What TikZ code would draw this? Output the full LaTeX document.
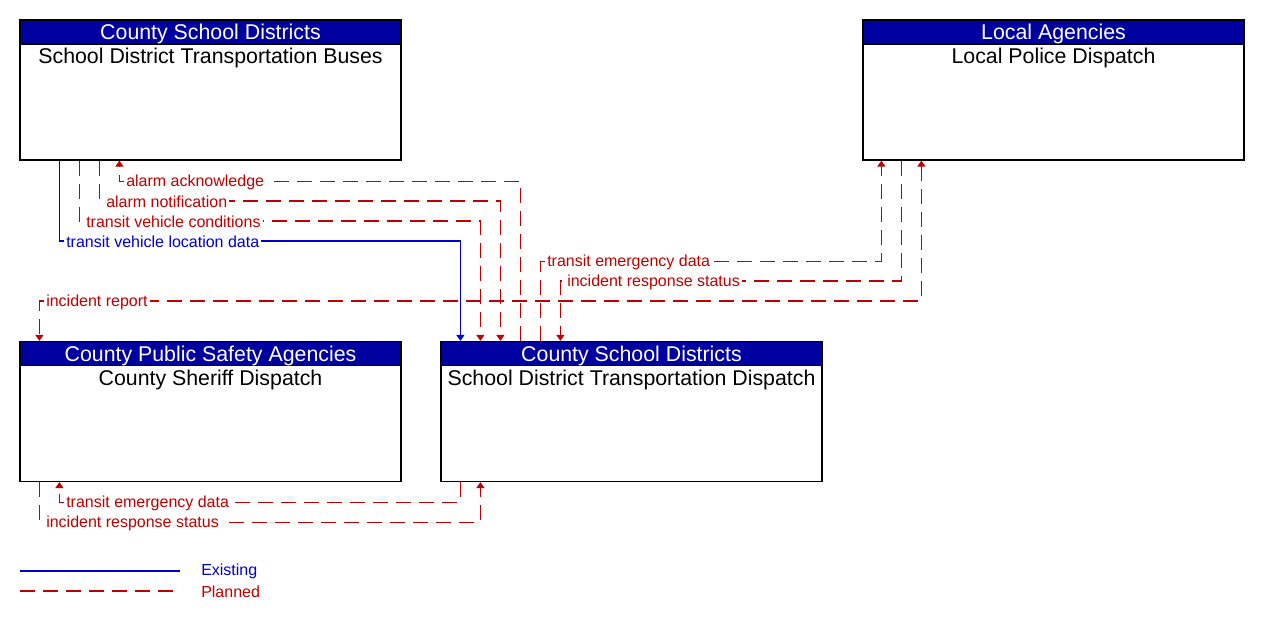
\documentclass[tikz,border=0pt]{standalone}
\usepackage{fontspec}
\setmainfont{Liberation Sans}
\usetikzlibrary{arrows.meta,calc}
\definecolor{hdrblue}{RGB}{0,0,160}
\definecolor{plred}{RGB}{192,0,0}
\definecolor{exblue}{RGB}{0,0,210}
\tikzset{
  box/.style={draw=black, line width=0.9pt, minimum width=285.75pt, minimum height=105pt, inner sep=0pt},
  hdr/.style={draw=black, line width=0.9pt, fill=hdrblue, text=white, minimum width=285.75pt, minimum height=18pt, inner sep=0pt, text height=13.5pt, text depth=2pt, font=\fontsize{16}{18}\selectfont, anchor=north},
  body/.style={anchor=north, inner sep=2.5pt, font=\fontsize{16}{18}\selectfont},
  pl/.style={color=plred, line width=0.9pt, dash pattern=on 11.25pt off 6pt},
  ex/.style={color=exblue, line width=0.9pt},
  tip/.style={-{Triangle[width=6pt,length=4.5pt]}},
  lbl/.style={anchor=west, fill=white, inner sep=1.5pt, yshift=-0.8pt, font=\fontsize{12}{14}\selectfont},
  lred/.style={lbl, text=plred},
  lblue/.style={lbl, text=exblue},
  leg/.style={anchor=west, inner sep=0pt, yshift=-0.6pt, font=\fontsize{12}{14}\selectfont},
}
\begin{document}
\begin{tikzpicture}[x=0.75pt,y=-0.75pt]
\useasboundingbox (0,0) rectangle (1261,621);
% boxes
\node[box] (A) at (210.5,90) {};
\node[hdr] (Ah) at (A.north) {County School Districts};
\node[body] at (Ah.south) {School District Transportation Buses};
\node[box] (B) at (1053.5,90) {};
\node[hdr] (Bh) at (B.north) {Local Agencies};
\node[body] at (Bh.south) {Local Police Dispatch};
\node[box] (C) at (210.5,411.5) {};
\node[hdr] (Ch) at (C.north) {County Public Safety Agencies};
\node[body] at (Ch.south) {County Sheriff Dispatch};
\node[box] (D) at (631.5,411.5) {};
\node[hdr] (Dh) at (D.north) {County School Districts};
\node[body] at (Dh.south) {School District Transportation Dispatch};
% connectors A <-> D
\draw[pl,tip] ($(D.north west)+(80,0)$) |- ($(A.south west)+(100,21)$) -- ($(A.south west)+(100,0)$);
\draw[pl,tip] ($(A.south west)+(80,0)$) |- ($(D.north west)+(60,-140)$) -- ($(D.north west)+(60,0)$);
\draw[pl,tip] ($(A.south west)+(60,0)$) |- ($(D.north west)+(40,-120)$) -- ($(D.north west)+(40,0)$);
\draw[ex,tip] ($(A.south west)+(40,0)$) |- ($(D.north west)+(20,-100)$) -- ($(D.north west)+(20,0)$);
% D <-> B
\draw[pl,tip] ($(D.north west)+(100,0)$) |- ($(B.south west)+(19,101)$) -- ($(B.south west)+(19,0)$);
\draw[pl,tip] ($(B.south west)+(39,0)$) |- ($(D.north west)+(120,-60)$) -- ($(D.north west)+(120,0)$);
% B <-> C incident report
\draw[pl,{Triangle[width=6pt,length=4.5pt]}-{Triangle[width=6pt,length=4.5pt]}] ($(B.south west)+(59,0)$) |- ($(C.north west)+(20,-40)$) -- ($(C.north west)+(20,0)$);
% D <-> C bottom
\draw[pl,tip] ($(D.south west)+(20,0)$) |- ($(C.south west)+(40,20)$) -- ($(C.south west)+(40,0)$);
\draw[pl,tip] ($(C.south west)+(20,0)$) |- ($(D.south west)+(40,40)$) -- ($(D.south west)+(40,0)$);
% labels
\node[lred] at (124,181) {alarm acknowledge};
\node[lred] at (104,201) {alarm notification};
\node[lred] at (84,221) {transit vehicle conditions};
\node[lblue] at (64,241) {transit vehicle location data};
\node[lred] at (545,261) {transit emergency data};
\node[lred] at (565,281) {incident response status};
\node[lred] at (44,301) {incident report};
\node[lred] at (64,502) {transit emergency data};
\node[lred] at (44,522) {incident response status};
% legend
\coordinate (e1) at (20,571); \coordinate (e2) at (180,571);
\coordinate (p1) at (20,591); \coordinate (p2) at (180,591);
\draw[ex] (e1) -- (e2);
\draw[pl] (p1) -- (p2);
\node[leg, text=exblue] (le) at (201,571) {Existing};
\node[leg, text=plred] (lp) at (201,591) {Planned};
\end{tikzpicture}
\end{document}
